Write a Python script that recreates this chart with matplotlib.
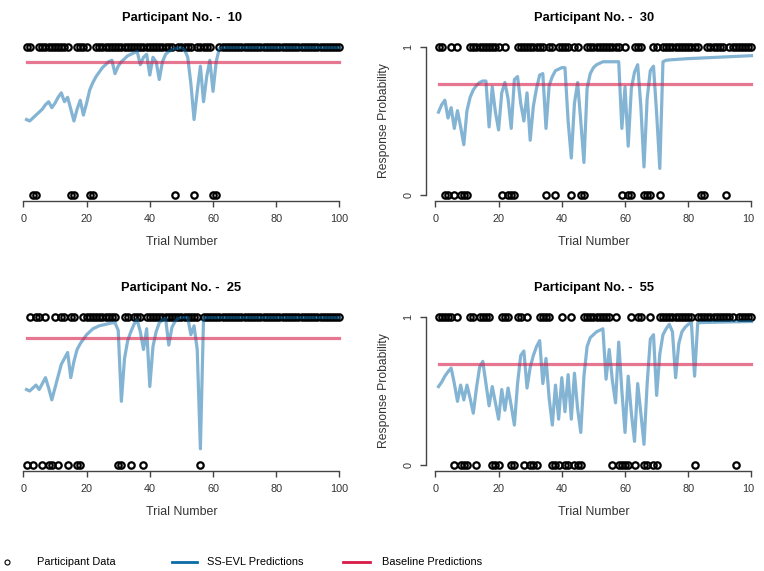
import matplotlib
matplotlib.use("Agg")
import matplotlib.pyplot as plt
from matplotlib.lines import Line2D

plt.rcParams['font.family'] = ['Liberation Sans', 'DejaVu Sans']

# ---------------- data ----------------
trials = list(range(1, 101))
x_ticks = [0, 20, 40, 60, 80, 100]

titles = ["Participant No. -  10", "Participant No. -  30",
          "Participant No. -  25", "Participant No. -  55"]

p10_pred = [0.51, 0.50, 0.52, 0.54, 0.56, 0.58, 0.61, 0.63, 0.59, 0.62,
            0.66, 0.69, 0.63, 0.66, 0.58, 0.50, 0.58, 0.64, 0.54, 0.62,
            0.71, 0.76, 0.80, 0.83, 0.86, 0.88, 0.90, 0.91, 0.82, 0.87,
            0.90, 0.92, 0.94, 0.95, 0.96, 0.97, 0.88, 0.93, 0.95, 0.81,
            0.93, 0.90, 0.78, 0.90, 0.95, 0.97, 0.98, 0.99, 0.99, 0.995,
            0.98, 0.93, 0.75, 0.51, 0.70, 0.87, 0.63, 0.80, 0.91, 0.70,
            0.90, 0.99, 0.995, 0.995, 0.995, 0.995, 0.995, 0.995, 0.995, 0.995,
            0.995, 0.995, 0.995, 0.995, 0.995, 0.995, 0.995, 0.995, 0.995, 0.995,
            0.995, 0.995, 0.995, 0.995, 0.995, 0.995, 0.995, 0.995, 0.995, 0.995,
            0.995, 0.995, 0.995, 0.995, 0.995, 0.995, 0.995, 0.995, 0.995, 0.995]

p30_pred = [0.56, 0.61, 0.64, 0.52, 0.59, 0.45, 0.57, 0.46, 0.34, 0.57,
            0.66, 0.71, 0.74, 0.76, 0.77, 0.77, 0.46, 0.73, 0.56, 0.44,
            0.69, 0.76, 0.65, 0.45, 0.78, 0.80, 0.62, 0.50, 0.69, 0.37,
            0.60, 0.72, 0.81, 0.82, 0.45, 0.74, 0.80, 0.84, 0.85, 0.86,
            0.86, 0.50, 0.25, 0.62, 0.76, 0.50, 0.22, 0.72, 0.82, 0.86,
            0.88, 0.89, 0.90, 0.90, 0.90, 0.90, 0.90, 0.90, 0.45, 0.73,
            0.33, 0.72, 0.83, 0.88, 0.60, 0.19, 0.65, 0.84, 0.87, 0.55,
            0.18, 0.90, 0.91, 0.912, 0.914, 0.915, 0.917, 0.918, 0.920, 0.921,
            0.922, 0.923, 0.924, 0.925, 0.926, 0.927, 0.928, 0.929, 0.930, 0.931,
            0.932, 0.933, 0.934, 0.935, 0.936, 0.937, 0.938, 0.939, 0.940, 0.941]

p25_pred = [0.51, 0.50, 0.52, 0.54, 0.51, 0.55, 0.59, 0.52, 0.44, 0.52,
            0.60, 0.68, 0.72, 0.76, 0.59, 0.70, 0.78, 0.82, 0.85, 0.88,
            0.90, 0.92, 0.93, 0.94, 0.945, 0.95, 0.955, 0.96, 0.96, 0.91,
            0.43, 0.72, 0.84, 0.90, 0.95, 0.98, 0.90, 0.78, 0.92, 0.53,
            0.80, 0.90, 0.96, 0.98, 0.99, 0.81, 0.93, 0.97, 0.99, 0.995,
            0.995, 0.995, 0.88, 0.94, 0.78, 0.11, 0.995, 0.995, 0.995, 0.995,
            0.995, 0.995, 0.995, 0.995, 0.995, 0.995, 0.995, 0.995, 0.995, 0.995,
            0.995, 0.995, 0.995, 0.995, 0.995, 0.995, 0.995, 0.995, 0.995, 0.995,
            0.995, 0.995, 0.995, 0.995, 0.995, 0.995, 0.995, 0.995, 0.995, 0.995,
            0.995, 0.995, 0.995, 0.995, 0.995, 0.995, 0.995, 0.995, 0.995, 0.995]

p55_pred = [0.53, 0.56, 0.60, 0.63, 0.655, 0.55, 0.43, 0.54, 0.44, 0.54,
            0.45, 0.35, 0.52, 0.66, 0.70, 0.55, 0.40, 0.53, 0.42, 0.31,
            0.51, 0.37, 0.52, 0.40, 0.27, 0.55, 0.74, 0.77, 0.52, 0.66,
            0.74, 0.80, 0.84, 0.55, 0.72, 0.45, 0.27, 0.54, 0.31, 0.59,
            0.36, 0.61, 0.31, 0.62, 0.38, 0.22, 0.60, 0.80, 0.86, 0.88,
            0.90, 0.91, 0.92, 0.58, 0.78, 0.57, 0.42, 0.83, 0.50, 0.22,
            0.60, 0.35, 0.16, 0.55, 0.35, 0.14, 0.55, 0.85, 0.88, 0.47,
            0.75, 0.88, 0.92, 0.95, 0.90, 0.59, 0.82, 0.90, 0.93, 0.95,
            0.96, 0.60, 0.96, 0.962, 0.962, 0.963, 0.963, 0.964, 0.964, 0.965,
            0.965, 0.966, 0.966, 0.967, 0.967, 0.967, 0.968, 0.968, 0.969, 0.969]

p10_zero = [3, 4, 15, 16, 21, 22, 48, 54, 60, 61]
p30_zero = [3, 4, 6, 8, 9, 10, 21, 23, 24, 25, 35, 38, 43, 46, 47,
            59, 61, 62, 66, 67, 68, 71, 84, 85, 92]
p25_zero = [1, 3, 6, 8, 9, 11, 14, 17, 18, 30, 31, 34, 38, 56]
p55_zero = [6, 8, 9, 10, 13, 18, 19, 20, 24, 25, 28, 30, 31, 32, 37, 38, 39,
            41, 42, 44, 45, 46, 56, 58, 59, 60, 61, 63, 66, 67, 69, 70, 82, 95]

baseline = [0.90, 0.75, 0.86, 0.68]

legend_labels = ["Participant Data", "SS-EVL Predictions", "Baseline Predictions"]

# ---------------- style ----------------
W, H = 764, 571
blue = '#0b6aa8'
red = '#d81b46'
axis_col = '#444444'
text_col = '#333333'

fig = plt.figure(figsize=(W / 100, H / 100), dpi=100)


def rect(x0, y0, x1, y1):
    return [x0 / W, 1 - y1 / H, (x1 - x0) / W, (y1 - y0) / H]


panels = [
    (rect(14, 41, 352, 201), p10_pred, p10_zero, False),
    (rect(426, 41, 764, 201), p30_pred, p30_zero, True),
    (rect(14, 311, 352, 471), p25_pred, p25_zero, False),
    (rect(426, 311, 764, 471), p55_pred, p55_zero, True),
]

for i, (r, pred, zeros, right) in enumerate(panels):
    ax = fig.add_axes(r)
    choice = [0 if t in zeros else 1 for t in trials]
    ax.plot(trials, choice, linestyle='none', marker='o', markersize=4.6,
            markerfacecolor='none', markeredgecolor='black', markeredgewidth=1.6,
            zorder=2)
    ax.plot(trials, pred, color=blue, alpha=0.5, lw=2.3, zorder=3)
    ax.plot([trials[0], trials[-1]], [baseline[i], baseline[i]], color=red,
            alpha=0.6, lw=2.3, zorder=4)
    ax.set_xlim(-2.96, 103.96)
    ax.set_ylim(-0.04, 1.04)
    for s in ['top', 'right']:
        ax.spines[s].set_visible(False)
    ax.spines['bottom'].set_bounds(0, 100)
    ax.spines['bottom'].set_color(axis_col)
    ax.spines['bottom'].set_linewidth(1.0)
    ax.set_xticks(x_ticks)
    ax.tick_params(axis='x', length=4.3, width=1.0, color=axis_col, pad=5.0,
                   labelsize=7.8, labelcolor=text_col)
    if right:
        ax.set_xticklabels([str(v) for v in x_ticks[:-1]] + [''])
        ax.annotate('10', xy=(100, 0), xycoords=('data', 'axes fraction'),
                    xytext=(-6.4, -(4.3 + 5.0)), textcoords='offset points',
                    ha='left', va='top', fontsize=7.8, color=text_col)
        ax.spines['left'].set_bounds(0, 1)
        ax.spines['left'].set_color(axis_col)
        ax.spines['left'].set_linewidth(1.0)
        ax.set_yticks([0, 1])
        ax.set_yticklabels(['0', '1'], rotation=90, va='center')
        ax.tick_params(axis='y', length=4.3, width=1.0, color=axis_col, pad=4.7,
                       labelsize=7.8, labelcolor=text_col)
    else:
        ax.spines['left'].set_visible(False)
        ax.set_yticks([])

# titles and axis labels (figure pixel positions)
row_top = [0, 270]
col_cx = [181.5, 594]
for i in range(4):
    cx = col_cx[i % 2]
    dy = row_top[i // 2]
    fig.text(cx / W, 1 - (18 + dy) / H, titles[i], ha='center', va='center',
             fontsize=9.3, fontweight='bold', color='black')
    fig.text(cx / W, 1 - (242 + dy) / H, 'Trial Number', ha='center',
             va='center', fontsize=8.9, color=text_col)
    if i % 2 == 1:
        fig.text(384 / W, 1 - (121 + dy) / H, 'Response Probability',
                 rotation=90, ha='center', va='center', fontsize=8.7,
                 color=text_col)

# legend row
ly = 1 - 562 / H
fig.add_artist(Line2D([7 / W], [ly], marker='o', markersize=3.6,
                      markerfacecolor='none', markeredgecolor='black',
                      markeredgewidth=0.8, linestyle='none'))
fig.add_artist(Line2D([172 / W, 197 / W], [ly, ly], color=blue, lw=2.0))
fig.add_artist(Line2D([343 / W, 370 / W], [ly, ly], color=red, lw=2.0))
for x0, lab in zip([37, 207, 382], legend_labels):
    fig.text(x0 / W, ly, lab, ha='left', va='center', fontsize=7.9,
             color='black')

fig.savefig('out.png', dpi=100)
